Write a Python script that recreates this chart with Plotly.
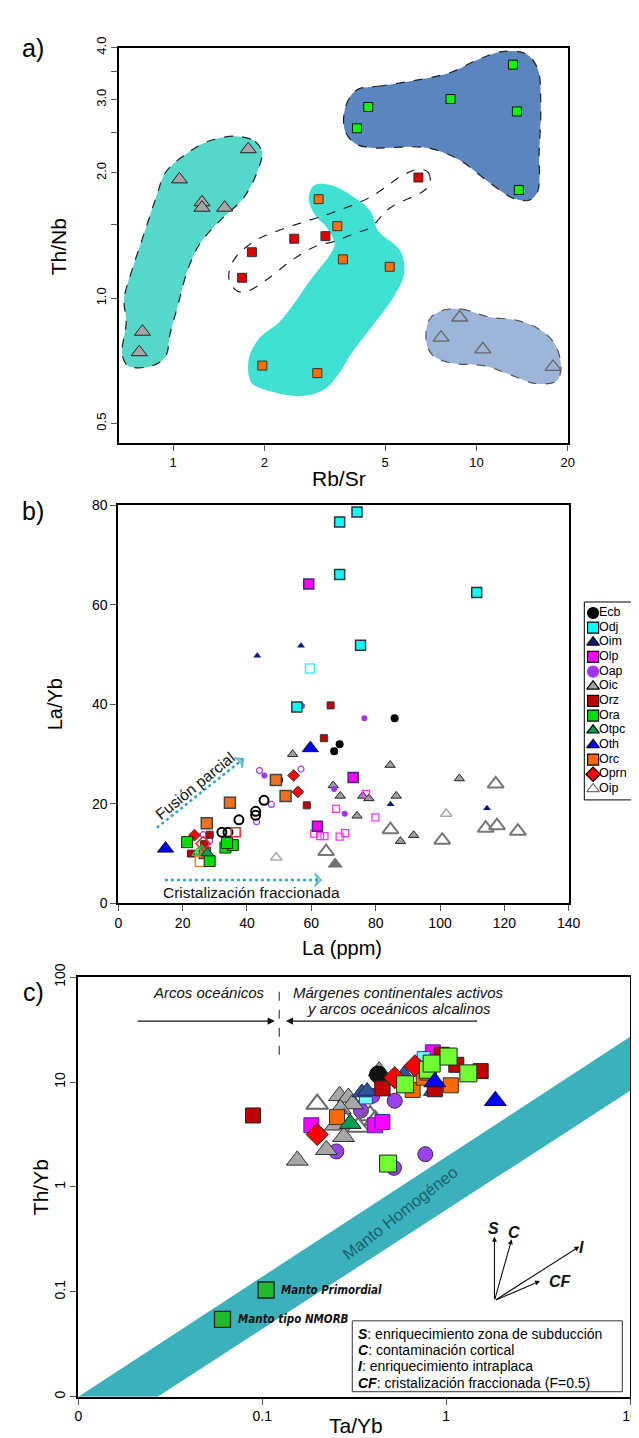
import numpy as np
import plotly.graph_objects as go

###############################################################################
# 3 paneles: a) Rb/Sr vs Th/Nb, b) La vs La/Yb, c) Ta/Yb vs Th/Yb
###############################################################################

# ---------------- a) Rb/Sr - Th/Nb ----------------
a_oic_rbsr = [1.77, 1.05, 1.246, 1.246, 1.48, 0.793, 0.774]
a_oic_thnb = [2.28, 1.93, 1.70, 1.65, 1.65, 0.831, 0.742]
a_oip_rbsr = [8.81, 7.65, 10.5, 17.9]
a_oip_thnb = [0.899, 0.804, 0.754, 0.684]
a_ora_rbsr = [13.2, 8.22, 4.40, 4.04, 13.6, 13.8]
a_ora_thnb = [3.64, 3.01, 2.88, 2.56, 2.81, 1.82]
a_orz_rbsr = [6.44, 2.51, 3.18, 1.82, 1.69]
a_orz_thnb = [1.95, 1.39, 1.41, 1.29, 1.12]
a_orc_rbsr = [3.02, 3.48, 3.63, 5.18, 1.97, 2.99]
a_orc_thnb = [1.73, 1.49, 1.24, 1.19, 0.689, 0.661]

# campos dibujados a mano (contornos)
a_campo1_x = [1.605, 1.866, 1.964, 1.894, 1.705, 1.42, 1.224, 1.118, 1.037, 0.976, 0.947,
              0.853, 0.711, 0.680, 0.701, 0.690, 0.733, 0.803, 0.878, 0.947, 1.085, 1.30, 1.605]
a_campo1_y = [2.45, 2.38, 2.24, 2.01, 1.74, 1.53, 1.35, 1.17, 0.96, 0.816, 0.726,
              0.688, 0.688, 0.733, 0.877, 0.995, 1.17, 1.43, 1.74, 2.01, 2.20, 2.38, 2.45]
a_campo2_x = [2.93, 3.31, 3.85, 4.47, 4.75, 5.61, 5.78, 5.36, 4.47, 3.85, 3.51, 3.12, 2.60,
              2.04, 1.81, 1.78, 1.92, 2.24, 2.52, 2.84, 3.31, 3.41, 3.21, 2.93, 2.80, 2.93]
a_campo2_y = [1.87, 1.87, 1.77, 1.62, 1.45, 1.30, 1.149, 1.013, 0.846, 0.733, 0.657, 0.601, 0.582,
              0.601, 0.628, 0.719, 0.80, 0.877, 0.977, 1.108, 1.28, 1.35, 1.48, 1.59, 1.74, 1.87]
a_campo3_x = [6.42, 6.92, 7.03, 6.62, 5.20, 4.47, 3.96, 3.41, 2.93, 2.45, 2.04, 1.76, 1.63,
              1.53, 1.58, 1.87, 2.45, 3.31, 4.47, 5.69, 6.42]
a_campo3_y = [2.04, 2.01, 1.88, 1.80, 1.65, 1.48, 1.43, 1.37, 1.33, 1.23, 1.11, 1.04, 1.04,
              1.11, 1.23, 1.376, 1.49, 1.60, 1.75, 1.97, 2.04]
a_campo4_x = [4.08, 4.75, 6.04, 8.17, 10.1, 12.1, 14.5, 15.9, 16.3, 16.1, 15.9, 14.9, 13.2,
              11.0, 8.68, 6.82, 4.47, 3.96, 3.68, 3.68, 3.85, 4.08]
a_campo4_y = [3.18, 3.23, 3.32, 3.48, 3.74, 3.91, 3.87, 3.57, 2.93, 2.24, 1.80, 1.72, 1.74,
              1.90, 2.16, 2.30, 2.30, 2.36, 2.54, 2.83, 3.06, 3.18]
a_campo5_x = [7.70, 8.94, 11.0, 13.6, 16.3, 18.2, 19.0, 18.4, 15.9, 12.8, 10.7, 8.17, 7.13,
              6.82, 7.03, 7.70]
a_campo5_y = [0.934, 0.942, 0.901, 0.885, 0.838, 0.773, 0.682, 0.634, 0.623, 0.657, 0.688,
              0.700, 0.733, 0.801, 0.893, 0.934]

# ---------------- b) La - La/Yb ----------------
b_ecb_la = [85.9, 68.8, 67.1, 50.0]
b_ecb_layb = [37.2, 32.0, 30.6, 24.8]
b_ecb_ab_la = [45.3, 42.7, 42.7, 37.5, 32.2, 34.1]
b_ecb_ab_layb = [20.7, 18.5, 17.7, 16.8, 14.3, 14.3]
b_odj_la = [74.2, 68.8, 68.8, 111.4, 75.3, 55.5]
b_odj_layb = [78.7, 76.7, 66.1, 62.5, 51.9, 39.5]
b_odj_ab_la = [59.6]
b_odj_ab_layb = [47.2]
b_oim_la = [56.8, 43.2, 84.6, 114.6]
b_oim_layb = [51.8, 49.8, 19.9, 19.1]
b_olp_la = [59.2, 73.0, 61.9]
b_olp_layb = [64.2, 25.3, 15.5]
b_olp_ab_la = [77.0, 67.7, 79.9, 60.9, 62.7, 64.1, 68.8, 70.5]
b_olp_ab_layb = [22.0, 19.0, 17.3, 14.0, 13.5, 13.5, 13.4, 14.1]
b_oap_la = [57.1, 76.5, 45.4, 67.1, 70.4]
b_oap_layb = [39.7, 37.2, 25.7, 23.0, 18.0]
b_oap_ab_la = [43.9, 56.8, 47.6, 43.0, 26.4, 28.4]
b_oap_ab_layb = [26.7, 27.0, 19.9, 16.4, 13.8, 12.6]
b_oic_la = [54.2, 84.5, 106.0, 66.8, 69.0, 76.0, 77.9, 86.4, 74.2, 91.8, 87.7]
b_oic_layb = [30.0, 27.8, 25.1, 23.7, 21.6, 21.6, 21.1, 21.6, 17.6, 13.7, 12.5]
b_oic2_la = [67.4]
b_oic2_layb = [7.9]
b_orz_la = [66.0, 63.9, 58.6, 28.4, 26.7, 22.6]
b_orz_layb = [39.8, 33.2, 19.7, 13.8, 11.9, 10.0]
b_orz_ab_la = [36.5]
b_orz_ab_layb = [14.3]
b_ora_la = [21.4, 33.3, 35.6, 33.8, 28.4]
b_ora_layb = [12.3, 11.2, 11.7, 12.1, 8.5]
b_otpc_la = [27.7]
b_otpc_layb = [10.1]
b_otpc_ab_la = [24.9, 26.0]
b_otpc_ab_layb = [10.2, 10.5]
b_oth_la = [59.7, 14.7]
b_oth_layb = [31.2, 11.0]
b_orc_la = [49.0, 52.0, 34.7, 27.5, 26.9]
b_orc_layb = [24.8, 21.6, 20.2, 16.1, 10.1]
b_orc_ab_la = [25.5]
b_orc_ab_layb = [8.4]
b_oprn_la = [54.5, 55.8, 23.7]
b_oprn_layb = [25.7, 22.4, 13.7]
b_oprn_ab_la = [26.4]
b_oprn_ab_layb = [12.0]
b_oip_la = [117.3, 84.6, 114.2, 117.7, 124.2, 100.7, 64.6]
b_oip_layb = [24.0, 14.8, 15.1, 15.6, 14.5, 12.7, 10.4]
b_oip2_la = [101.9, 49.1]
b_oip2_layb = [18.0, 9.2]

b_fusion_la = [12.0, 38.8]
b_fusion_layb = [15.2, 29.0]
b_crist_la = [14.5, 63.0]
b_crist_layb = [4.7, 4.7]

# ---------------- c) Ta/Yb - Th/Yb ----------------
c_orz_tayb = [0.0891, 0.45, 0.945, 1.135, 1.54, 0.867]
c_orz_thyb = [4.80, 8.7, 18.2, 14.6, 12.7, 8.54]
c_oic_tayb = [0.155, 0.223, 0.263, 0.294, 0.309, 0.266, 0.250, 0.277, 0.432]
c_oic_thyb = [1.79, 2.26, 7.39, 7.13, 6.17, 5.54, 3.87, 3.01, 12.7]
c_oip_tayb = [0.199, 0.279, 0.332, 0.386, 0.411]
c_oip_thyb = [6.17, 4.47, 3.73, 4.80, 4.31]
c_oap_tayb = [0.253, 0.344, 0.397, 0.525, 0.52, 0.77]
c_oap_thyb = [2.18, 5.35, 7.39, 6.63, 1.52, 2.05]
c_oprn_tayb = [0.199, 0.525, 0.677]
c_oprn_thyb = [3.16, 11.0, 14.3]
c_olp_tayb = [0.185, 0.411, 0.45, 0.45, 0.846]
c_olp_thyb = [3.87, 3.87, 4.16, 8.85, 19.2]
c_orc_tayb = [0.255, 0.657, 0.755, 0.795, 1.06]
c_orc_thyb = [4.63, 8.41, 11.0, 12.3, 9.3]
c_otpc_tayb = [0.301]
c_otpc_thyb = [4.01]
c_oim_tayb = [0.348, 0.372, 0.589, 0.85]
c_oim_thyb = [7.94, 8.2, 11.8, 8.2]
c_odj_tayb = [0.366, 0.755]
c_odj_thyb = [7.13, 16.9]
c_ecb_tayb = [0.426]
c_ecb_thyb = [11.8]
c_ora_tayb = [0.598, 0.795, 0.834, 1.03, 1.32, 0.483]
c_ora_thyb = [9.51, 13.1, 15.0, 17.5, 12.1, 1.67]
c_oth_tayb = [0.867, 1.85]
c_oth_thyb = [10.0, 6.63]

c_manto_tayb = [0.01, 10.0, 10.0, 0.027]
c_manto_thyb = [0.01, 27.0, 8.24, 0.01]
c_ref_nombres = ['Manto Primordial', 'Manto tipo NMORB']
c_ref_tayb = [0.105, 0.0608]
c_ref_thyb = [0.104, 0.0546]
c_vec_origen = (1.83, 0.0823)
c_vec_nombres = ['S', 'C', 'I', 'CF']
c_vec_tayb = [1.83, 2.27, 5.30, 3.24]
c_vec_thyb = [0.335, 0.316, 0.27, 0.127]
c_caja_lineas = [('S', 'enriquecimiento zona de subducción'),
                 ('C', 'contaminación cortical'),
                 ('I', 'enriquecimiento intraplaca'),
                 ('CF', 'cristalización fraccionada (F=0.5)')]

leyenda = ['Ecb', 'Odj', 'Oim', 'Olp', 'Oap', 'Oic', 'Orz', 'Ora', 'Otpc', 'Oth', 'Orc', 'Oprn', 'Oip']

W, H = 639, 1438
FONT = 'Liberation Sans, Arial, sans-serif'
NARROW = 'DejaVu Sans Condensed, Liberation Sans, Arial, sans-serif'
TEAL_ARROW = '#2FA6BF'

COL = dict(Ecb='#000000', Odj='#00FFFF', Oim='#0A1A80', Olp='#FF00FF', Oap='#A033F0',
           Oic='#A6A6A6', Orz='#C00000', Ora='#00E000', Otpc='#00A050', Oth='#0000FF',
           Orc='#FF6A00', Oprn='#FF0000', Oip='#707070')
SYM = dict(Ecb='circle', Odj='square', Oim='triangle-up', Olp='square', Oap='circle',
           Oic='triangle-up', Orz='square', Ora='square', Otpc='triangle-up', Oth='triangle-up',
           Orc='square', Oprn='diamond', Oip='triangle-up-open')


def px(x):
    return x / W


def py(y):
    return 1 - y / H


def puntos(x, y, ax, symbol, size, color, lcolor='#222222', lw=1.0):
    return go.Scatter(x=x, y=y, mode='markers', xaxis='x' + ax, yaxis='y' + ax,
                      marker=dict(symbol=symbol, size=size, color=color,
                                  line=dict(color=lcolor, width=lw)),
                      showlegend=False, hoverinfo='skip')


def campo(x, y, fill, line_color=None, dash='dash', lw=1.2):
    return go.Scatter(x=x, y=y, mode='lines', xaxis='x', yaxis='y',
                      fill='toself' if fill else None, fillcolor=fill,
                      line=dict(shape='spline', smoothing=1.0,
                                color=line_color if line_color else 'rgba(0,0,0,0)',
                                width=lw if line_color else 0, dash=dash),
                      showlegend=False, hoverinfo='skip')


traces = []
# ---- a)
traces.append(campo(a_campo1_x, a_campo1_y, '#55D8C9', '#222222'))
traces.append(campo(a_campo2_x, a_campo2_y, '#40E0D2', None))
traces.append(campo(a_campo3_x, a_campo3_y, None, '#222222'))
traces.append(campo(a_campo4_x, a_campo4_y, '#5B85BE', '#222222'))
traces.append(campo(a_campo5_x, a_campo5_y, '#9DB5D8', '#555555'))
traces.append(puntos(a_oic_rbsr, a_oic_thnb, '', 'triangle-up', 14, '#A6A6A6'))
traces.append(puntos(a_oip_rbsr, a_oip_thnb, '', 'triangle-up-open', 14, '#666666', lw=1.3))
traces.append(puntos(a_ora_rbsr, a_ora_thnb, '', 'square', 9, '#00FF00', '#111111'))
traces.append(puntos(a_orz_rbsr, a_orz_thnb, '', 'square', 9, '#DD0000', '#333333'))
traces.append(puntos(a_orc_rbsr, a_orc_thnb, '', 'square', 9, '#FF7000', '#333333'))

# ---- b)
for xs, ys in [(b_fusion_la, b_fusion_layb), (b_crist_la, b_crist_layb)]:
    traces.append(go.Scatter(x=xs, y=ys, mode='lines+markers', xaxis='x2', yaxis='y2',
                             line=dict(color=TEAL_ARROW, width=2.5, dash='dot'),
                             marker=dict(symbol='arrow-wide-open', size=[0, 9], angleref='previous',
                                         color=TEAL_ARROW, line=dict(color=TEAL_ARROW, width=2)),
                             showlegend=False, hoverinfo='skip'))
traces += [
    puntos(b_oip_la, b_oip_layb, '2', 'triangle-up-open', 14, '#777777', lw=2),
    puntos(b_oip2_la, b_oip2_layb, '2', 'triangle-up-open', 10, '#AAAAAA', lw=1.5),
    puntos(b_oic_la, b_oic_layb, '2', 'triangle-up', 9, '#A0A0A0', '#222222'),
    puntos(b_oic2_la, b_oic2_layb, '2', 'triangle-up', 12, '#707070', '#707070'),
    puntos(b_olp_ab_la, b_olp_ab_layb, '2', 'square-open', 7, '#FF33FF', lw=1.3),
    puntos(b_oap_ab_la, b_oap_ab_layb, '2', 'circle-open', 6, '#A033F0', lw=1.2),
    puntos(b_oap_la, b_oap_layb, '2', 'circle', 6, '#A033F0', '#A033F0', 0),
    puntos(b_ecb_la, b_ecb_layb, '2', 'circle', 8, '#000000', '#000000', 0),
    puntos(b_ecb_ab_la, b_ecb_ab_layb, '2', 'circle-open', 9, '#000000', lw=2),
    puntos(b_odj_la, b_odj_layb, '2', 'square', 10, '#00FFFF', '#333333', 1.5),
    puntos(b_odj_ab_la, b_odj_ab_layb, '2', 'square-open', 9, '#40F0FF', lw=1.5),
    puntos(b_oim_la, b_oim_layb, '2', 'triangle-up', 7, '#0A1A80', '#0A1A80', 0),
    puntos(b_olp_la, b_olp_layb, '2', 'square', 10, '#FF00FF', '#333366', 1.5),
    puntos(b_orz_la, b_orz_layb, '2', 'square', 7, '#C00000', '#333333'),
    puntos(b_orz_ab_la, b_orz_ab_layb, '2', 'square-open', 9, '#E03030', lw=1.5),
    puntos(b_orc_la, b_orc_layb, '2', 'square', 11, '#F07020', '#444444', 1.5),
    puntos(b_orc_ab_la, b_orc_ab_layb, '2', 'square-open', 10, '#F08030', lw=1.5),
    puntos(b_oprn_la, b_oprn_layb, '2', 'diamond', 9, '#FF0000', '#333333'),
    puntos(b_oprn_ab_la, b_oprn_ab_layb, '2', 'diamond-open', 11, '#FF2020', lw=1.5),
    puntos(b_ora_la, b_ora_layb, '2', 'square', 11, '#00E000', '#222222'),
    puntos(b_otpc_ab_la, b_otpc_ab_layb, '2', 'triangle-up-open', 11, '#30C040', lw=1.5),
    puntos(b_otpc_la, b_otpc_layb, '2', 'triangle-up', 11, '#00A050', '#222222'),
    puntos(b_oth_la, b_oth_layb, '2', 'triangle-up', 14, '#0000FF', '#111111'),
]

# ---- c)
traces.append(go.Scatter(x=c_manto_tayb, y=c_manto_thyb, mode='lines', xaxis='x3', yaxis='y3',
                         fill='toself', fillcolor='#3AB1BB', line=dict(width=0),
                         showlegend=False, hoverinfo='skip'))
traces.append(puntos(c_ref_tayb, c_ref_thyb, '3', 'square', 16, '#22B830', '#222222', 1.3))
ms = 15
traces += [
    puntos(c_oap_tayb, c_oap_thyb, '3', 'circle', ms, '#9B40F0', '#333333'),
    puntos(c_oic_tayb, c_oic_thyb, '3', 'triangle-up', ms + 4, '#A6A6A6', '#333333'),
    puntos(c_oip_tayb, c_oip_thyb, '3', 'triangle-up-open', ms + 4, '#666666', lw=2),
    puntos(c_olp_tayb, c_olp_thyb, '3', 'square', ms, '#FF00FF', '#3030A0'),
    puntos(c_odj_tayb, c_odj_thyb, '3', 'square', ms - 2, '#70FFFF', '#3030A0'),
    puntos(c_oim_tayb, c_oim_thyb, '3', 'triangle-up', ms + 2, '#2E5496', '#1A2A60'),
    puntos(c_ecb_tayb, c_ecb_thyb, '3', 'circle', ms + 2, '#111111', '#000000'),
    puntos(c_orc_tayb, c_orc_thyb, '3', 'square', ms, '#FF6A00', '#333333'),
    puntos(c_orz_tayb, c_orz_thyb, '3', 'square', ms, '#C00000', '#222222'),
    puntos(c_oprn_tayb, c_oprn_thyb, '3', 'diamond', ms + 2, '#FF0000', '#222222'),
    puntos(c_ora_tayb, c_ora_thyb, '3', 'square', ms + 2, '#70FF30', '#222222'),
    puntos(c_otpc_tayb, c_otpc_thyb, '3', 'triangle-up', ms + 4, '#00A050', '#222222'),
    puntos(c_oth_tayb, c_oth_thyb, '3', 'triangle-up', ms + 4, '#0000FF', '#111111'),
]
# linea discontinua de separacion
traces.append(go.Scatter(x=[0.1237, 0.1237], y=[18.2, 82], mode='lines', xaxis='x3', yaxis='y3',
                         line=dict(color='#222222', width=1, dash='dash'),
                         showlegend=False, hoverinfo='skip'))

# ---- leyenda (panel b)
idx = list(range(len(leyenda)))
traces.append(go.Scatter(x=[9] * len(leyenda), y=idx, mode='markers', xaxis='x4', yaxis='y4',
                         marker=dict(symbol=[SYM[k] for k in leyenda], size=11,
                                     color=[COL[k] for k in leyenda],
                                     line=dict(color=['#000000' if k not in ('Oap', 'Ecb') else COL[k]
                                                      for k in leyenda], width=1.2)),
                         showlegend=False, hoverinfo='skip'))
traces.append(go.Scatter(x=[15] * len(leyenda), y=idx, mode='text', xaxis='x4', yaxis='y4',
                         text=leyenda, textposition='middle right',
                         textfont=dict(family=FONT, size=12.5, color='#000000'),
                         showlegend=False, hoverinfo='skip'))

fig = go.Figure(data=traces)

ax_common = dict(showline=True, mirror=True, linecolor='#000000', linewidth=2, ticks='outside',
                 ticklen=6, tickcolor='#555555', showgrid=False, zeroline=False,
                 tickfont=dict(family=FONT, size=14, color='#000000'))

fig.update_layout(
    width=W, height=H, margin=dict(l=0, r=0, t=0, b=0),
    paper_bgcolor='white', plot_bgcolor='white', showlegend=False,
    xaxis=dict(domain=[px(110), px(570)], type='log', range=[np.log10(0.665), np.log10(20)],
               anchor='y', tickvals=[1, 2, 5, 10, 20], ticktext=['1', '2', '5', '10', '20'],
               **{**ax_common, 'tickfont': dict(family=FONT, size=13, color='#000000')}),
    yaxis=dict(domain=[py(428), py(26)], type='log', range=[np.log10(0.448), np.log10(4.0)],
               anchor='x', tickvals=[0.5, 1, 1.5, 2, 2.5, 3, 3.5, 4],
               ticktext=['0.5', '1.0', '', '2.0', '', '3.0', '', '4.0'], tickangle=-90,
               **{**ax_common, 'tickfont': dict(family=FONT, size=13, color='#000000')}),
    xaxis2=dict(domain=[px(109), px(571)], range=[0, 140], dtick=20, anchor='y2', **ax_common),
    yaxis2=dict(domain=[py(895), py(491)], range=[0, 80], dtick=20, anchor='x2', **ax_common),
    xaxis3=dict(domain=[px(68), px(634)], type='log', range=[-2, 1], anchor='y3',
                tickvals=[0.01, 0.1, 1, 10], ticktext=['0', '0.1', '1', '10'], **ax_common),
    yaxis3=dict(domain=[py(1396), py(970)], type='log', range=[-2, 2], anchor='x3',
                tickvals=[0.01, 0.1, 1, 10, 100], ticktext=['0', '0.1', '1', '10', '100'],
                tickangle=-90, **ax_common),
    xaxis4=dict(domain=[px(587), 1], range=[0, 52], visible=False, anchor='y4', fixedrange=True),
    yaxis4=dict(domain=[py(790), py(589)], range=[12.75, -0.75], visible=False, anchor='x4',
                fixedrange=True),
)

# marco de la leyenda y del recuadro explicativo del panel c
fig.add_shape(type='rect', xref='paper', yref='paper', x0=px(587), x1=1.05, y0=py(790), y1=py(589),
              line=dict(color='#000000', width=1), fillcolor='rgba(0,0,0,0)')
fig.add_shape(type='rect', xref='paper', yref='paper', x0=px(349), x1=px(626), y0=py(1391),
              y1=py(1319), line=dict(color='#333333', width=1), fillcolor='white')

ann = []


def texto(x, y, t, size=20, angle=0, xanchor='center', **kw):
    ann.append(dict(x=x, y=y, xref='paper', yref='paper', text=t, showarrow=False,
                    textangle=angle, xanchor=xanchor, yanchor='middle',
                    font=dict(family=FONT, size=size, color='#000000'), **kw))


# etiquetas de paneles y titulos de ejes
texto(px(22), py(26), 'a)', 25)
texto(px(22), py(497), 'b)', 25)
texto(px(22), py(985), 'c)', 25)
texto(px(48), py(228), 'Th/Nb', 21, -90)
texto(px(335), py(464), 'Rb/Sr', 21)
texto(px(45), py(693), 'La/Yb', 20, -90)
texto(px(338), py(940), 'La (ppm)', 20)
texto(px(30), py(1183), 'Th/Yb', 21, -90)
texto(px(353), py(1425), 'Ta/Yb', 21)

# panel b anotaciones
ann.append(dict(x=24.0, y=23.6, xref='x2', yref='y2', text='Fusión parcial', showarrow=False,
                textangle=-39, font=dict(family=FONT, size=15.5, color='#111111')))
ann.append(dict(x=41.5, y=2.2, xref='x2', yref='y2', text='Cristalización fraccionada',
                showarrow=False, font=dict(family=FONT, size=15.5, color='#111111')))

# panel c anotaciones
L = np.log10
ann.append(dict(x=L(0.0516), y=L(71.3), xref='x3', yref='y3', text='<i>Arcos oceánicos</i>',
                showarrow=False, font=dict(family=FONT, size=15, color='#111111')))
ann.append(dict(x=L(0.552), y=L(71.3), xref='x3', yref='y3',
                text='<i>Márgenes continentales activos</i>', showarrow=False,
                font=dict(family=FONT, size=15, color='#111111')))
ann.append(dict(x=L(0.552), y=L(50.5), xref='x3', yref='y3',
                text='<i>y arcos oceánicos alcalinos</i>', showarrow=False,
                font=dict(family=FONT, size=15, color='#111111')))
for head, tail in [(0.117, 0.0206), (0.1345, 1.50)]:
    ann.append(dict(x=L(head), y=L(38.1), ax=L(tail), ay=L(38.1), xref='x3', yref='y3',
                    axref='x3', ayref='y3', text='', showarrow=True, arrowhead=2,
                    arrowsize=1.3, arrowwidth=1.1, arrowcolor='#111111'))
ann.append(dict(x=L(0.56), y=L(0.56), xref='x3', yref='y3', text='Manto Homogéneo',
                showarrow=False, textangle=-38,
                font=dict(family=FONT, size=16.5, color='#1F5F6B')))
for nom, xr, yr in zip(c_ref_nombres, c_ref_tayb, c_ref_thyb):
    ann.append(dict(x=L(xr * 1.18), y=L(yr), xref='x3', yref='y3', text='<b><i>%s</i></b>' % nom,
                    showarrow=False, xanchor='left',
                    font=dict(family=NARROW, size=11.5, color='#111111')))
for nom, xv, yv in zip(c_vec_nombres, c_vec_tayb, c_vec_thyb):
    ann.append(dict(x=L(xv), y=L(yv), ax=L(c_vec_origen[0]), ay=L(c_vec_origen[1]),
                    xref='x3', yref='y3', axref='x3', ayref='y3', text='', showarrow=True,
                    arrowhead=2, arrowsize=0.9, arrowwidth=1.1, arrowcolor='#111111'))
vec_lab = {'S': (1.80, 0.40, 'center'), 'C': (2.33, 0.37, 'center'),
           'I': (5.45, 0.265, 'center'), 'CF': (3.55, 0.125, 'left')}
for nom in c_vec_nombres:
    xl, yl, anc = vec_lab[nom]
    ann.append(dict(x=L(xl), y=L(yl), xref='x3', yref='y3', text='<b><i>%s</i></b>' % nom,
                    showarrow=False, xanchor=anc, font=dict(family=FONT, size=16, color='#111111')))

# recuadro explicativo: una linea por vector
for i, (sig, desc) in enumerate(c_caja_lineas):
    texto(px(353), py(1332 + 16.6 * i), '<b><i>%s</i></b>: %s' % (sig, desc), 14, xanchor='left')

fig.update_layout(annotations=ann)

fig.write_html('out.html')
